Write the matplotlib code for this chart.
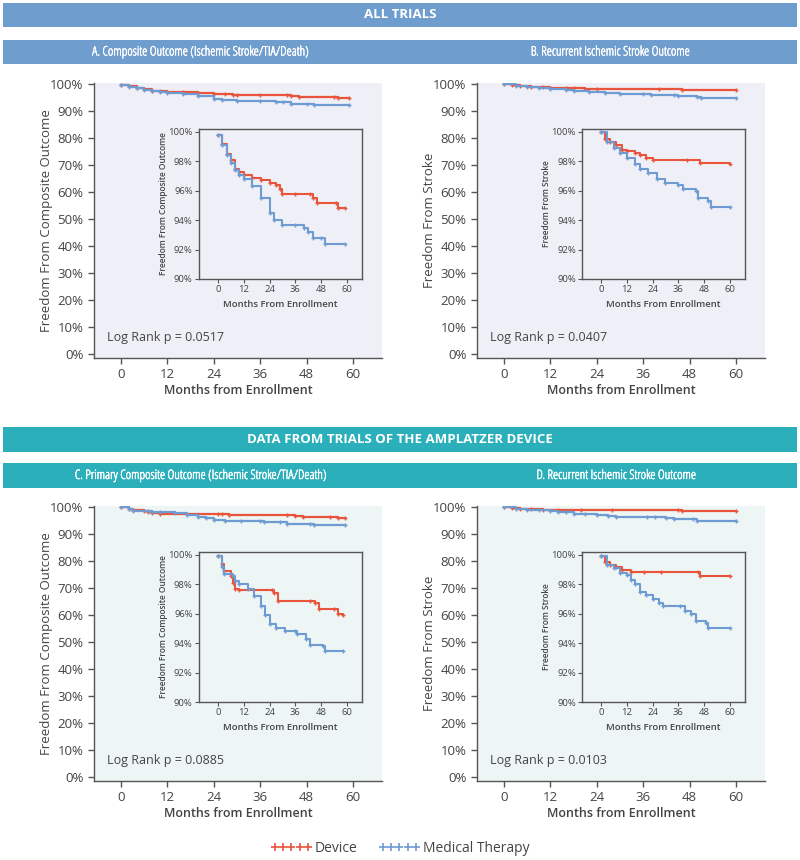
import numpy as np
import matplotlib
matplotlib.use('Agg')
import matplotlib.pyplot as plt
import matplotlib.patheffects as pe
from matplotlib.patches import Rectangle
from matplotlib.lines import Line2D

plt.rcParams['font.family'] = ['Open Sans', 'DejaVu Sans']

# Kaplan-Meier curves (months, % event free)
a_dev_t = [0, 2, 4, 6, 8, 10, 12, 16, 20, 24, 27, 29, 30, 36, 43, 44, 46, 55, 56, 59]
a_dev_s = [99.8, 99.2, 98.5, 98.1, 97.5, 97.3, 97.1, 96.9, 96.7, 96.5, 96.4, 96.1, 95.8, 95.8, 95.8, 95.5, 95.2, 95.2, 94.8, 94.8]
a_med_t = [0, 2, 4, 6, 8, 10, 12, 16, 20, 24, 26, 30, 36, 40, 42, 44, 48, 50, 59]
a_med_s = [99.8, 99.1, 98.4, 97.9, 97.4, 97.1, 96.8, 96.3, 95.5, 94.5, 94.0, 93.7, 93.7, 93.5, 93.2, 92.8, 92.8, 92.4, 92.4]

b_dev_t = [0, 2, 4, 7, 10, 12, 16, 18, 21, 24, 40, 46, 60]
b_dev_s = [100, 99.5, 99.3, 99.1, 98.8, 98.7, 98.6, 98.4, 98.2, 98.1, 98.1, 97.9, 97.8]
b_med_t = [0, 3, 6, 9, 12, 16, 18, 22, 26, 30, 36, 38, 44, 45, 50, 51, 60]
b_med_s = [100, 99.3, 98.9, 98.6, 98.25, 97.8, 97.5, 97.2, 96.8, 96.5, 96.4, 96.1, 96.0, 95.5, 95.3, 94.9, 94.9]

c_dev_t = [0, 2, 3, 6, 7, 8, 10, 25, 26, 28, 43, 45, 47, 54, 56, 58]
c_dev_s = [99.9, 99.4, 98.9, 98.6, 98.1, 97.7, 97.6, 97.6, 97.4, 96.9, 96.9, 96.7, 96.3, 96.3, 96.0, 95.9]
c_med_t = [0, 2, 3, 7, 8, 10, 14, 17, 20, 22, 24, 27, 31, 36, 37, 41, 43, 49, 50, 58]
c_med_s = [99.9, 99.2, 98.7, 98.6, 98.2, 98.0, 97.7, 97.2, 96.5, 95.9, 95.3, 95.0, 94.8, 94.8, 94.6, 94.3, 93.9, 93.8, 93.5, 93.5]

d_dev_t = [0, 2, 4, 7, 10, 14, 20, 28, 45, 46, 60]
d_dev_s = [99.9, 99.55, 99.3, 99.2, 99.0, 98.85, 98.85, 98.85, 98.85, 98.6, 98.55]
d_med_t = [0, 3, 6, 9, 12, 14, 16, 18, 21, 24, 27, 29, 37, 39, 42, 44, 49, 50, 60]
d_med_s = [99.9, 99.3, 99.1, 98.8, 98.65, 98.3, 98.0, 97.5, 97.3, 97.0, 96.7, 96.5, 96.5, 96.2, 96.0, 95.5, 95.4, 95.0, 95.0]

p_values = ['0.0517', '0.0407', '0.0885', '0.0103']
titles = ['A. Composite Outcome (Ischemic Stroke/TIA/Death)',
          'B. Recurrent Ischemic Stroke Outcome',
          'C. Primary Composite Outcome (Ischemic Stroke/TIA/Death)',
          'D. Recurrent Ischemic Stroke Outcome']
ylabels = ['Freedom From Composite Outcome', 'Freedom From Stroke']
main_yticks = list(range(0, 101, 10))
inset_yticks = [90, 92, 94, 96, 98, 100]
month_ticks = [0, 12, 24, 36, 48, 60]

RED = '#e8553c'
BLUE = '#6f9bd3'
TXT = '#444444'
W, H = 800, 860

fig = plt.figure(figsize=(W / 100, H / 100), dpi=100)


def rect(x0, y0, x1, y1):
    return [x0 / W, 1 - y1 / H, (x1 - x0) / W, (y1 - y0) / H]


def banner(y0, y1, color, text, bold=False, xs=(400,)):
    fig.add_artist(Rectangle((3 / W, 1 - y1 / H), 794 / W, (y1 - y0) / H,
                             transform=fig.transFigure, facecolor=color, edgecolor='none'))
    if isinstance(text, str):
        text = [text]
    for x, t in zip(xs, text):
        if bold:
            fig.text(x / W, 1 - (y0 + y1) / 2 / H, t, color='white', ha='center',
                     va='center', fontsize=9.5, fontweight='bold')
        else:
            # condensed face is light, thicken it a bit with a white stroke
            fig.text(x / W, 1 - (y0 + y1) / 2 / H, t, color='white', ha='center',
                     va='center', fontsize=9.4, fontstretch='condensed',
                     path_effects=[pe.withStroke(linewidth=0.35, foreground='white')])


def km(ax, t, s, color, ms, lw):
    ax.plot(t, s, drawstyle='steps-post', color=color, lw=lw, marker='+',
            ms=ms, mew=1.0, zorder=3)


def panel(x0, y0, bg, dev, med, ylabel, pval):
    ax = fig.add_axes(rect(x0, y0, x0 + 288, y0 + 275))
    ax.set_facecolor(bg)
    km(ax, dev[0], dev[1], RED, 3, 1.6)
    km(ax, med[0], med[1], BLUE, 3, 1.6)
    ax.set_xlim(-7, 67.5)
    ax.set_ylim(-1.5, 100.4)
    ax.set_xticks(month_ticks)
    ax.set_yticks(main_yticks)
    ax.set_yticklabels(['{}%'.format(v) for v in main_yticks])
    for sp in ['top', 'right']:
        ax.spines[sp].set_visible(False)
    for sp in ['left', 'bottom']:
        ax.spines[sp].set_color('#555555')
        ax.spines[sp].set_linewidth(1.0)
    ax.tick_params(colors='#555555', labelcolor=TXT, labelsize=9.5, length=4, width=1.0)
    ax.set_xlabel('Months from Enrollment', fontsize=9, color=TXT, fontweight='semibold')
    ax.xaxis.set_label_coords(0.5, -0.095)
    ax.set_ylabel(ylabel, fontsize=9.5, color=TXT)
    ax.yaxis.set_label_coords(-0.142, 0.5)
    ax.text(0.045, 0.076, 'Log Rank p = ' + pval, transform=ax.transAxes,
            fontsize=9, color=TXT, va='center')

    ins = fig.add_axes(rect(x0 + 105, y0 + 46, x0 + 268, y0 + 196))
    ins.set_facecolor('none')
    km(ins, dev[0], dev[1], RED, 2.5, 1.5)
    km(ins, med[0], med[1], BLUE, 2.5, 1.5)
    ins.set_xlim(-8.8, 67)
    ins.set_ylim(90, 100.2)
    ins.set_xticks(month_ticks)
    ins.set_yticks(inset_yticks)
    ins.set_yticklabels(['{}%'.format(v) for v in inset_yticks])
    for sp in ins.spines.values():
        sp.set_color('#555555')
        sp.set_linewidth(1.0)
    ins.tick_params(colors='#555555', labelcolor=TXT, labelsize=6.8, length=3, width=0.8, pad=1.5)
    ins.set_xlabel('Months From Enrollment', fontsize=6.8, color=TXT, fontweight='semibold')
    ins.xaxis.set_label_coords(0.5, -0.14)
    ins.set_ylabel('Freedom From ' + ylabel.split('From ')[1], fontsize=6, color=TXT,
                   fontweight='semibold')
    ins.yaxis.set_label_coords(-0.19, 0.5)


banner(3, 27, '#6f9dcd', 'ALL TRIALS', bold=True)
banner(40, 64, '#6f9dcd', titles[:2], xs=(200, 610))
banner(427, 452, '#2aafbb', 'DATA FROM TRIALS OF THE AMPLATZER DEVICE', bold=True)
banner(463, 488, '#2aafbb', titles[2:], xs=(200, 616))

top_bg = '#eff0f7'
bot_bg = '#edf5f5'
panel(94, 83, top_bg, (a_dev_t, a_dev_s), (a_med_t, a_med_s), ylabels[0], p_values[0])
panel(477, 83, top_bg, (b_dev_t, b_dev_s), (b_med_t, b_med_s), ylabels[1], p_values[1])
panel(94, 506, bot_bg, (c_dev_t, c_dev_s), (c_med_t, c_med_s), ylabels[0], p_values[2])
panel(477, 506, bot_bg, (d_dev_t, d_dev_s), (d_med_t, d_med_s), ylabels[1], p_values[3])

handles = [Line2D([], [], color=RED, marker='+', ls='none', ms=6, mew=1.2),
           Line2D([], [], color=BLUE, marker='+', ls='none', ms=6, mew=1.2)]
fig.legend(handles, ['Device', 'Medical Therapy'], loc='center', ncol=2,
           bbox_to_anchor=(0.5, 1 - 848 / H), frameon=False, numpoints=5,
           handlelength=3.0, handletextpad=0.2, columnspacing=1.5,
           prop={'size': 10}, labelcolor=TXT)

fig.savefig('out.png', dpi=100)
